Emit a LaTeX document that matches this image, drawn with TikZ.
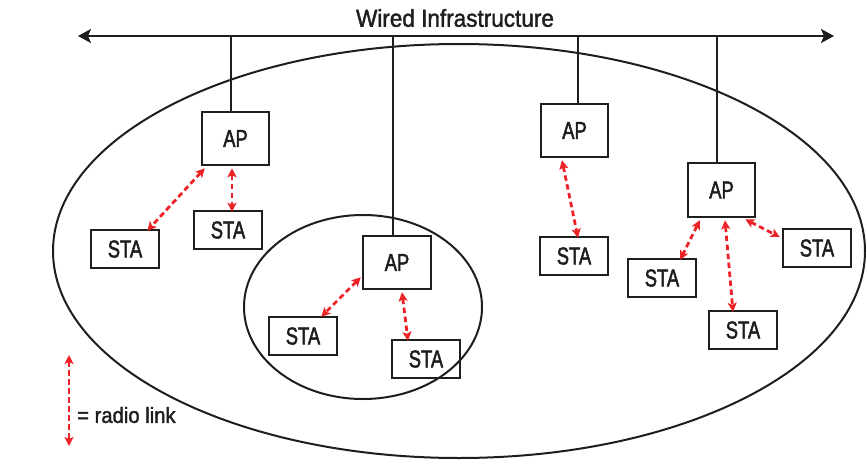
\documentclass[tikz,border=0pt]{standalone}
\usepackage{fontspec}
\setmainfont{Liberation Sans}
\newfontfamily\condfont[FakeStretch=0.75,FakeBold=2]{Liberation Sans}
\newfontfamily\labelfont[FakeStretch=0.92,FakeBold=1.6]{Liberation Sans}
\usetikzlibrary{arrows.meta}
\definecolor{linkred}{RGB}{236,34,39}
\definecolor{ink}{RGB}{30,30,30}
\tikzset{
  x=1pt, y=-1pt,
  apbox/.style={draw=ink, line width=2.5pt, minimum width=67pt, minimum height=53pt, inner sep=0pt, font=\condfont\fontsize{24.5}{25}\selectfont, text=ink},
  stabox/.style={draw=ink, line width=2.5pt, minimum width=68pt, minimum height=38pt, inner sep=0pt, font=\condfont\fontsize{24.5}{25}\selectfont, text=ink},
  wire/.style={draw=ink, line width=2.5pt},
  radio/.style={draw=linkred, line width=2.8pt, dash pattern=on 5.5pt off 3.5pt, {Stealth[length=9pt,width=9pt,inset=2pt]}-{Stealth[length=9pt,width=9pt,inset=2pt]}},
  cell/.style={draw=ink, line width=2pt},
}
\begin{document}
\begin{tikzpicture}
\useasboundingbox (0,0) rectangle (867,471);
% cells
\draw[cell] (459,251) ellipse [x radius=406, y radius=207];
\draw[cell] (363,307) ellipse [x radius=119, y radius=92];
% title and bus
\node[font=\labelfont\fontsize{24.5}{25}\selectfont, text=ink] (title) at (455,18) {Wired Infrastructure};
\coordinate (busL) at (78,36);
\coordinate (busR) at (834,36);
\draw[wire, {Stealth[length=13pt,width=14pt,inset=3pt]}-{Stealth[length=13pt,width=14pt,inset=3pt]}] (busL) -- (busR);
% access points
\node[apbox] (AP1) at (235.5,138.5) {AP};
\node[apbox, minimum width=68pt] (AP2) at (397,262.5) {AP};
\node[apbox] (AP3) at (574.5,130.5) {AP};
\node[apbox, minimum height=54pt] (AP4) at (721.5,190) {AP};
% stations
\node[stabox] (STA1) at (125,249) {STA};
\node[stabox] (STA2) at (228,230) {STA};
\node[stabox] (STA3) at (303,336) {STA};
\node[stabox] (STA4) at (426,359) {STA};
\node[stabox] (STA5) at (574,256) {STA};
\node[stabox] (STA6) at (662,278) {STA};
\node[stabox] (STA7) at (743,330) {STA};
\node[stabox] (STA8) at (817,248) {STA};
% wired drops
\coordinate (d1) at (231,36);
\coordinate (d2) at (393,36);
\coordinate (d3) at (578,36);
\coordinate (d4) at (717,36);
\draw[wire] (d1) -- (d1 |- AP1.north);
\draw[wire] (d2) -- (d2 |- AP2.north);
\draw[wire] (d3) -- (d3 |- AP3.north);
\draw[wire] (d4) -- (d4 |- AP4.north);
% radio links
\draw[radio] ([xshift=4pt,yshift=-2pt]AP1.south west) -- ([xshift=-13pt,yshift=-2pt]STA1.north east);
\draw[radio] ([xshift=-3.5pt,yshift=-2pt]AP1.south) -- ([xshift=4pt,yshift=-2pt]STA2.north);
\draw[radio] ([xshift=-1pt,yshift=13pt]AP2.south west) -- ([xshift=-17pt,yshift=-1pt]STA3.north east);
\draw[radio] ([xshift=5pt,yshift=-2pt]AP2.south) -- ([xshift=-18pt,yshift=-2pt]STA4.north);
\draw[radio] ([xshift=-12.5pt,yshift=-2pt]AP3.south) -- ([xshift=4pt,yshift=-2pt]STA5.north);
\draw[radio] ([xshift=13pt,yshift=-2pt]AP4.south west) -- ([xshift=-17pt,yshift=-2pt]STA6.north east);
\draw[radio] ([xshift=3.5pt,yshift=-2pt]AP4.south) -- ([xshift=-10pt,yshift=-2pt]STA7.north);
\draw[radio] ([xshift=-11pt,yshift=-1pt]AP4.south east) -- ([xshift=-2pt,yshift=11pt]STA8.west);
% legend
\coordinate (legT) at (69,355);
\coordinate (legB) at (69,446);
\draw[radio] (legT) -- (legB);
\node[anchor=west, inner sep=0pt, font=\labelfont\fontsize{22}{22}\selectfont, text=ink] (legtext) at (77,415) {= radio link};
\end{tikzpicture}
\end{document}
